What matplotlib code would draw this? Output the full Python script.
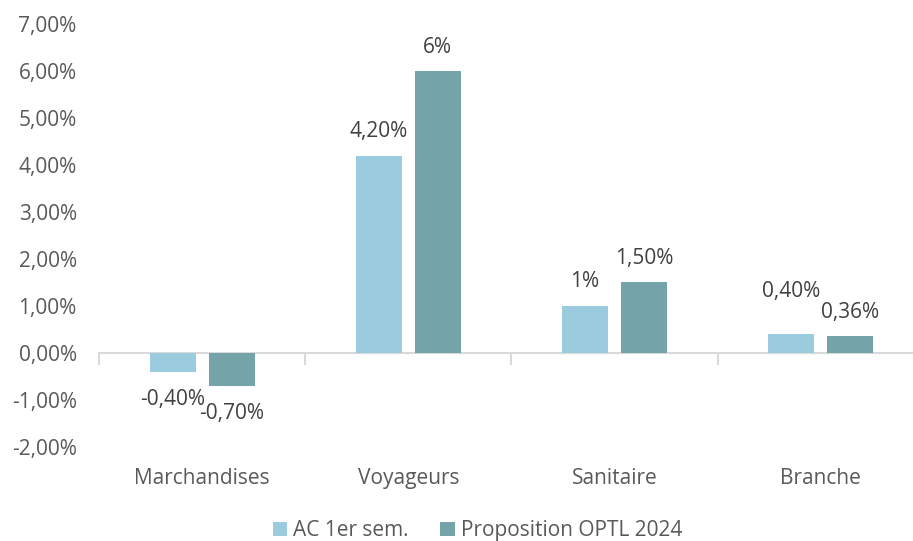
import matplotlib.pyplot as plt
import numpy as np
from matplotlib.transforms import blended_transform_factory

# ======= DATA =======
categories = ["Marchandises", "Voyageurs", "Sanitaire", "Branche"]
ac_1er_sem = [-0.40, 4.20, 1.00, 0.40]
optl_2024 = [-0.70, 6.00, 1.50, 0.36]
ac_labels = ["-0,40%", "4,20%", "1%", "0,40%"]
optl_labels = ["-0,70%", "6%", "1,50%", "0,36%"]
y_ticks = [-2, -1, 0, 1, 2, 3, 4, 5, 6, 7]
series_names = ["AC 1er sem.", "Proposition OPTL 2024"]

# ======= STYLE =======
c_light = "#9BCBDE"
c_dark = "#74A4A9"
txt = "#595959"
txt_dark = "#404040"
grey = "#D9D9D9"
plt.rcParams['font.family'] = ['Open Sans', 'DejaVu Sans']
fs = 15

fig = plt.figure(figsize=(9.13, 5.41), dpi=100)
# plot area runs slightly past the right edge of the canvas
ax = fig.add_axes([0.1084, 0.1738, 0.9036, 0.7818])

x = np.arange(len(categories))
w = 0.223
off = 0.143
b1 = ax.bar(x - off, ac_1er_sem, w, color=c_light, label=series_names[0])
b2 = ax.bar(x + off, optl_2024, w, color=c_dark, label=series_names[1])

ax.set_xlim(-0.5, len(categories) - 0.5)
ax.set_ylim(-2, 7)
ax.set_yticks(y_ticks)
ax.set_yticklabels([f"{v},00%" if v >= 0 else f"-{abs(v)},00%" for v in y_ticks])
ax.tick_params(axis='y', length=0, pad=16, labelsize=fs, labelcolor=txt)
ax.set_xticks([])
for s in ax.spines.values():
    s.set_visible(False)

# zero line and category separators
ax.axhline(0, color=grey, lw=1.5, zorder=0)
trans = blended_transform_factory(ax.transData, ax.transAxes)
for b in np.arange(-0.5, len(categories), 1.0):
    ax.plot([b, b], [2 / 9, 2 / 9 - 0.025], color=grey, lw=1.5,
            transform=trans, clip_on=False)

# category labels
for xi, name in zip(x, categories):
    ax.text(xi, -0.075, name, transform=trans, ha='center', va='center',
            fontsize=fs, color=txt)

# value labels
def put_labels(bars, labels, extra):
    for rect, lab, e in zip(bars, labels, extra):
        h = rect.get_height()
        xc = rect.get_x() + rect.get_width() / 2
        dy = 24 + e if h >= 0 else -28 - e
        ax.annotate(lab, (xc, h), xytext=(0, dy), textcoords='offset pixels',
                    ha='center', va='center', fontsize=fs, color=txt_dark)

put_labels(b1, ac_labels, [0, 0, 0, 19])
put_labels(b2, optl_labels, [0, 0, 0, 0])

fig.legend(loc='lower center', bbox_to_anchor=(0.523, -0.035), ncol=2,
           frameon=False, fontsize=fs, labelcolor=txt, handlelength=0.7,
           handleheight=0.7, handletextpad=0.3, columnspacing=1.5)

fig.savefig("out.png", dpi=100)
